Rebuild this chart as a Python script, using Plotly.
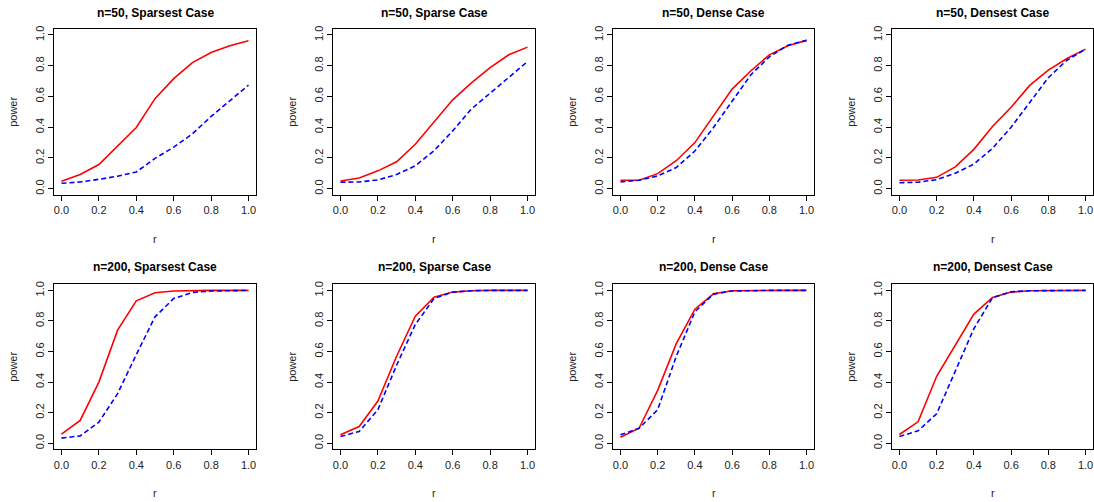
import plotly.graph_objects as go
from plotly.subplots import make_subplots

# r grid shared by every panel
r = [0.0, 0.1, 0.2, 0.3, 0.4, 0.5, 0.6, 0.7, 0.8, 0.9, 1.0]

titles = [
    "n=50, Sparsest Case", "n=50, Sparse Case", "n=50, Dense Case", "n=50, Densest Case",
    "n=200, Sparsest Case", "n=200, Sparse Case", "n=200, Dense Case", "n=200, Densest Case",
]

# power curves, solid red method
red_n50_sparsest = [0.048, 0.092, 0.157, 0.278, 0.398, 0.586, 0.716, 0.820, 0.886, 0.930, 0.963]
red_n50_sparse = [0.050, 0.070, 0.116, 0.175, 0.289, 0.433, 0.578, 0.689, 0.788, 0.871, 0.921]
red_n50_dense = [0.055, 0.055, 0.098, 0.182, 0.300, 0.477, 0.648, 0.766, 0.871, 0.930, 0.965]
red_n50_densest = [0.055, 0.057, 0.074, 0.142, 0.256, 0.405, 0.530, 0.672, 0.772, 0.847, 0.908]
red_n200_sparsest = [0.059, 0.149, 0.400, 0.740, 0.932, 0.985, 0.996, 1.0, 1.0, 1.0, 1.0]
red_n200_sparse = [0.055, 0.109, 0.276, 0.569, 0.832, 0.956, 0.989, 0.998, 1.0, 1.0, 1.0]
red_n200_dense = [0.039, 0.098, 0.346, 0.652, 0.877, 0.978, 0.998, 1.0, 1.0, 1.0, 1.0]
red_n200_densest = [0.057, 0.140, 0.438, 0.646, 0.845, 0.954, 0.989, 0.998, 1.0, 1.0, 1.0]

# power curves, dashed blue method
blue_n50_sparsest = [0.035, 0.044, 0.061, 0.081, 0.109, 0.197, 0.270, 0.357, 0.470, 0.575, 0.674]
blue_n50_sparse = [0.042, 0.044, 0.057, 0.092, 0.149, 0.247, 0.376, 0.519, 0.621, 0.726, 0.827]
blue_n50_dense = [0.044, 0.055, 0.083, 0.138, 0.245, 0.398, 0.569, 0.740, 0.858, 0.934, 0.965]
blue_n50_densest = [0.039, 0.042, 0.059, 0.101, 0.160, 0.263, 0.400, 0.565, 0.722, 0.836, 0.908]
blue_n200_sparsest = [0.033, 0.048, 0.138, 0.324, 0.580, 0.827, 0.947, 0.987, 0.996, 0.998, 1.0]
blue_n200_sparse = [0.044, 0.077, 0.219, 0.510, 0.777, 0.947, 0.989, 0.998, 1.0, 1.0, 1.0]
blue_n200_dense = [0.055, 0.098, 0.219, 0.569, 0.860, 0.976, 0.996, 1.0, 1.0, 1.0, 1.0]
blue_n200_densest = [0.044, 0.081, 0.193, 0.477, 0.750, 0.952, 0.991, 0.998, 1.0, 1.0, 1.0]

red_curves = [red_n50_sparsest, red_n50_sparse, red_n50_dense, red_n50_densest,
              red_n200_sparsest, red_n200_sparse, red_n200_dense, red_n200_densest]
blue_curves = [blue_n50_sparsest, blue_n50_sparse, blue_n50_dense, blue_n50_densest,
               blue_n200_sparsest, blue_n200_sparse, blue_n200_dense, blue_n200_densest]

tick_vals = [0.0, 0.2, 0.4, 0.6, 0.8, 1.0]
tick_text = ["0.0", "0.2", "0.4", "0.6", "0.8", "1.0"]

W, H = 1094, 502
# plot boxes in pixels (left, right) per column and (top, bottom) per row
col_px = [(54, 256), (333, 535), (613, 814), (892, 1093)]
row_px = [(26, 193), (283, 449)]

FONT = "Liberation Sans, Arial, sans-serif"

fig = make_subplots(rows=2, cols=4)

annotations = []
for i in range(8):
    row, col = i // 4, i % 4
    fig.add_trace(go.Scatter(x=r, y=red_curves[i], mode="lines",
                             line=dict(color="#FF0000", width=1.6),
                             showlegend=False), row=row + 1, col=col + 1)
    fig.add_trace(go.Scatter(x=r, y=blue_curves[i], mode="lines",
                             line=dict(color="#0000FF", width=1.6, dash="5px,3px"),
                             showlegend=False), row=row + 1, col=col + 1)

    x0, x1 = col_px[col]
    y0, y1 = row_px[row]
    dx = [x0 / W, x1 / W]
    dy = [1 - y1 / H, 1 - y0 / H]
    axis_common = dict(
        range=[-0.04, 1.04], showline=True, mirror=True, linecolor="black",
        linewidth=1, ticks="outside", ticklen=5, tickcolor="black",
        showgrid=False, zeroline=False, tickvals=tick_vals, ticktext=tick_text,
        tickfont=dict(family=FONT, size=11, color="#222"),
    )
    fig.update_xaxes(domain=dx, row=row + 1, col=col + 1, **axis_common)
    fig.update_yaxes(domain=dy, row=row + 1, col=col + 1, tickangle=-90, **axis_common)

    cx = (x0 + x1) / 2 / W
    cy = 1 - (y0 + y1) / 2 / H
    title_y = 10 if row == 0 else 266
    xlab_y = 237 if row == 0 else 493
    annotations.append(dict(text="<b>" + titles[i] + "</b>", x=cx, y=1 - title_y / H,
                            xref="paper", yref="paper", showarrow=False,
                            xanchor="center", yanchor="middle",
                            font=dict(family=FONT, size=12, color="black")))
    annotations.append(dict(text="r", x=cx, y=1 - xlab_y / H,
                            xref="paper", yref="paper", showarrow=False,
                            xanchor="center", yanchor="middle",
                            font=dict(family=FONT, size=11, color="#222")))
    annotations.append(dict(text="power", x=(x0 - 41) / W, y=cy,
                            xref="paper", yref="paper", showarrow=False,
                            xanchor="center", yanchor="middle", textangle=-90,
                            font=dict(family=FONT, size=11, color="#222")))

fig.update_layout(
    width=W, height=H,
    margin=dict(l=0, r=0, t=0, b=0),
    paper_bgcolor="white", plot_bgcolor="white",
    annotations=annotations,
    showlegend=False,
)

# drop the default page margin so the figure sits at the window's corner
fig.write_html("out.html", config={"displayModeBar": False},
               post_script="document.body.style.margin='0';"
               "document.body.style.overflow='hidden';")
